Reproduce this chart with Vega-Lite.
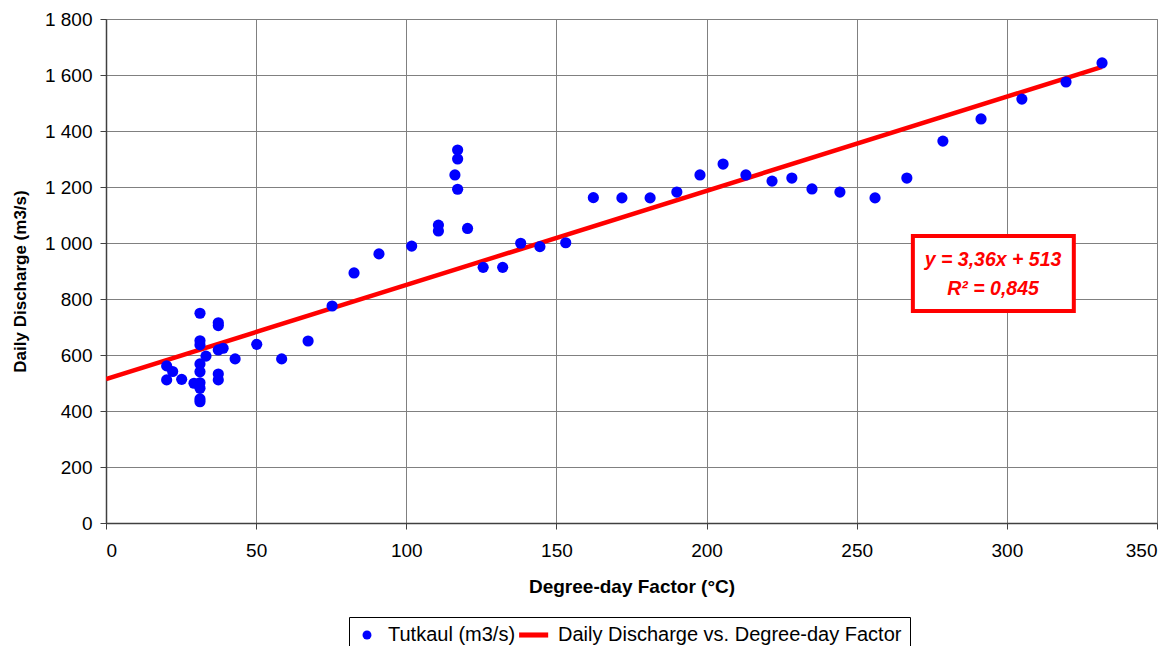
{
  "$schema": "https://vega.github.io/schema/vega-lite/v6.json",
  "width": 1051,
  "height": 504,
  "autosize": {"type": "none"},
  "padding": {"left": 106, "top": 19, "right": 19, "bottom": 123},
  "background": "white",
  "config": {
    "font": "Liberation Sans",
    "view": {"stroke": "#808080", "strokeWidth": 1},
    "axis": {
      "labelFont": "Liberation Sans",
      "labelFontSize": 19,
      "labelColor": "#000000",
      "titleFont": "Liberation Sans",
      "titleFontSize": 19,
      "titleFontWeight": "bold",
      "titleColor": "#000000",
      "gridColor": "#808080",
      "gridWidth": 1,
      "gridOpacity": 1,
      "domainColor": "#404040",
      "domainWidth": 1.5,
      "tickColor": "#404040",
      "tickSize": 6
    },
    "legend": {
      "labelFont": "Liberation Sans",
      "labelFontSize": 20,
      "labelColor": "#000000",
      "labelLimit": 600
    }
  },
  "datasets": {
    "obs": [
      {"x": 20.2, "y": 561, "series": "Tutkaul (m3/s)"},
      {"x": 20.2, "y": 511, "series": "Tutkaul (m3/s)"},
      {"x": 22.2, "y": 541, "series": "Tutkaul (m3/s)"},
      {"x": 25.2, "y": 513, "series": "Tutkaul (m3/s)"},
      {"x": 29.3, "y": 499, "series": "Tutkaul (m3/s)"},
      {"x": 31.3, "y": 749, "series": "Tutkaul (m3/s)"},
      {"x": 31.3, "y": 651, "series": "Tutkaul (m3/s)"},
      {"x": 31.3, "y": 636, "series": "Tutkaul (m3/s)"},
      {"x": 31.3, "y": 568, "series": "Tutkaul (m3/s)"},
      {"x": 31.3, "y": 540, "series": "Tutkaul (m3/s)"},
      {"x": 31.3, "y": 501, "series": "Tutkaul (m3/s)"},
      {"x": 31.3, "y": 481, "series": "Tutkaul (m3/s)"},
      {"x": 31.3, "y": 443, "series": "Tutkaul (m3/s)"},
      {"x": 31.3, "y": 433, "series": "Tutkaul (m3/s)"},
      {"x": 33.3, "y": 596, "series": "Tutkaul (m3/s)"},
      {"x": 37.4, "y": 715, "series": "Tutkaul (m3/s)"},
      {"x": 37.4, "y": 705, "series": "Tutkaul (m3/s)"},
      {"x": 37.4, "y": 618, "series": "Tutkaul (m3/s)"},
      {"x": 37.4, "y": 532, "series": "Tutkaul (m3/s)"},
      {"x": 37.4, "y": 511, "series": "Tutkaul (m3/s)"},
      {"x": 39.0, "y": 624, "series": "Tutkaul (m3/s)"},
      {"x": 43.0, "y": 586, "series": "Tutkaul (m3/s)"},
      {"x": 50.2, "y": 638, "series": "Tutkaul (m3/s)"},
      {"x": 58.5, "y": 586, "series": "Tutkaul (m3/s)"},
      {"x": 67.3, "y": 650, "series": "Tutkaul (m3/s)"},
      {"x": 75.3, "y": 775, "series": "Tutkaul (m3/s)"},
      {"x": 82.6, "y": 893, "series": "Tutkaul (m3/s)"},
      {"x": 90.9, "y": 961, "series": "Tutkaul (m3/s)"},
      {"x": 101.8, "y": 989, "series": "Tutkaul (m3/s)"},
      {"x": 110.7, "y": 1064, "series": "Tutkaul (m3/s)"},
      {"x": 110.7, "y": 1043, "series": "Tutkaul (m3/s)"},
      {"x": 117.1, "y": 1332, "series": "Tutkaul (m3/s)"},
      {"x": 117.1, "y": 1300, "series": "Tutkaul (m3/s)"},
      {"x": 116.2, "y": 1243, "series": "Tutkaul (m3/s)"},
      {"x": 117.1, "y": 1192, "series": "Tutkaul (m3/s)"},
      {"x": 120.4, "y": 1052, "series": "Tutkaul (m3/s)"},
      {"x": 125.6, "y": 913, "series": "Tutkaul (m3/s)"},
      {"x": 132.1, "y": 913, "series": "Tutkaul (m3/s)"},
      {"x": 138.1, "y": 999, "series": "Tutkaul (m3/s)"},
      {"x": 144.5, "y": 987, "series": "Tutkaul (m3/s)"},
      {"x": 153.1, "y": 1001, "series": "Tutkaul (m3/s)"},
      {"x": 162.3, "y": 1162, "series": "Tutkaul (m3/s)"},
      {"x": 171.8, "y": 1161, "series": "Tutkaul (m3/s)"},
      {"x": 181.2, "y": 1161, "series": "Tutkaul (m3/s)"},
      {"x": 190.1, "y": 1182, "series": "Tutkaul (m3/s)"},
      {"x": 197.8, "y": 1243, "series": "Tutkaul (m3/s)"},
      {"x": 205.5, "y": 1282, "series": "Tutkaul (m3/s)"},
      {"x": 213.1, "y": 1243, "series": "Tutkaul (m3/s)"},
      {"x": 221.8, "y": 1221, "series": "Tutkaul (m3/s)"},
      {"x": 228.4, "y": 1232, "series": "Tutkaul (m3/s)"},
      {"x": 235.1, "y": 1193, "series": "Tutkaul (m3/s)"},
      {"x": 244.4, "y": 1182, "series": "Tutkaul (m3/s)"},
      {"x": 256.1, "y": 1161, "series": "Tutkaul (m3/s)"},
      {"x": 266.7, "y": 1232, "series": "Tutkaul (m3/s)"},
      {"x": 278.7, "y": 1364, "series": "Tutkaul (m3/s)"},
      {"x": 291.4, "y": 1443, "series": "Tutkaul (m3/s)"},
      {"x": 305.0, "y": 1514, "series": "Tutkaul (m3/s)"},
      {"x": 319.7, "y": 1575, "series": "Tutkaul (m3/s)"},
      {"x": 331.7, "y": 1643, "series": "Tutkaul (m3/s)"}
    ],
    "fit": [
      {"x": 0, "y": 514},
      {"x": 331.7, "y": 1629}
    ]
  },
  "layer": [
    {
      "data": {"name": "fit"},
      "mark": {"type": "line", "strokeWidth": 4.5, "clip": true, "color": "#FF0000"},
      "encoding": {
        "x": {
          "field": "x", "type": "quantitative",
          "scale": {"domain": [0, 350], "nice": false, "zero": false},
          "axis": {
            "title": "Degree-day Factor (°C)",
            "values": [0, 50, 100, 150, 200, 250, 300, 350],
            "labelPadding": 12,
            "titlePadding": 17,
            "grid": true
          }
        },
        "y": {
          "field": "y", "type": "quantitative",
          "scale": {"domain": [0, 1800], "nice": false},
          "axis": {
            "title": "Daily Discharge (m3/s)",
            "titleFontSize": 17,
            "values": [0, 200, 400, 600, 800, 1000, 1200, 1400, 1600, 1800],
            "labelExpr": "replace(format(datum.value, ','), ',', ' ')",
            "labelPadding": 8,
            "titlePadding": 15,
            "titleY": 262,
            "grid": true
          }
        }
      }
    },
    {
      "data": {"name": "obs"},
      "mark": {"type": "point", "filled": true, "opacity": 1, "size": 125},
      "encoding": {
        "x": {"field": "x", "type": "quantitative"},
        "y": {"field": "y", "type": "quantitative"},
        "color": {
          "field": "series", "type": "nominal",
          "scale": {
            "domain": ["Tutkaul (m3/s)", "Daily Discharge vs. Degree-day Factor"],
            "range": ["#0000FF", "#FF0000"]
          },
          "legend": {
            "title": null,
            "orient": "none",
            "direction": "horizontal",
            "legendX": 243,
            "legendY": 598,
            "strokeColor": "#000000",
            "padding": 8,
            "symbolSize": 80,
            "labelOffset": 11,
            "columnPadding": 3
          }
        },
        "shape": {
          "field": "series", "type": "nominal",
          "scale": {
            "domain": ["Tutkaul (m3/s)", "Daily Discharge vs. Degree-day Factor"],
            "range": ["circle", "M-4.0,-0.57H2.5V0.57H-4.0Z"]
          },
          "legend": {
            "title": null,
            "orient": "none",
            "direction": "horizontal",
            "legendX": 243,
            "legendY": 598,
            "strokeColor": "#000000",
            "padding": 8,
            "symbolSize": 80,
            "labelOffset": 11,
            "columnPadding": 3
          }
        }
      }
    },
    {
      "data": {"values": [{}]},
      "mark": {"type": "rect", "fill": "white", "stroke": "#FF0000", "strokeWidth": 4},
      "encoding": {
        "x": {"datum": 268.7, "type": "quantitative"},
        "x2": {"datum": 322.3},
        "y": {"datum": 1025, "type": "quantitative"},
        "y2": {"datum": 757}
      }
    },
    {
      "data": {"values": [{}]},
      "mark": {"type": "text", "color": "#FF0000", "font": "Liberation Sans", "fontSize": 19.5, "fontWeight": "bold", "fontStyle": "italic", "align": "center", "baseline": "middle"},
      "encoding": {
        "x": {"datum": 295.4, "type": "quantitative"},
        "y": {"datum": 940, "type": "quantitative"},
        "text": {"value": "y = 3,36x + 513"}
      }
    },
    {
      "data": {"values": [{}]},
      "mark": {"type": "text", "color": "#FF0000", "font": "Liberation Sans", "fontSize": 19.5, "fontWeight": "bold", "fontStyle": "italic", "align": "center", "baseline": "middle"},
      "encoding": {
        "x": {"datum": 295.4, "type": "quantitative"},
        "y": {"datum": 836, "type": "quantitative"},
        "text": {"value": "R² = 0,845"}
      }
    }
  ]
}
